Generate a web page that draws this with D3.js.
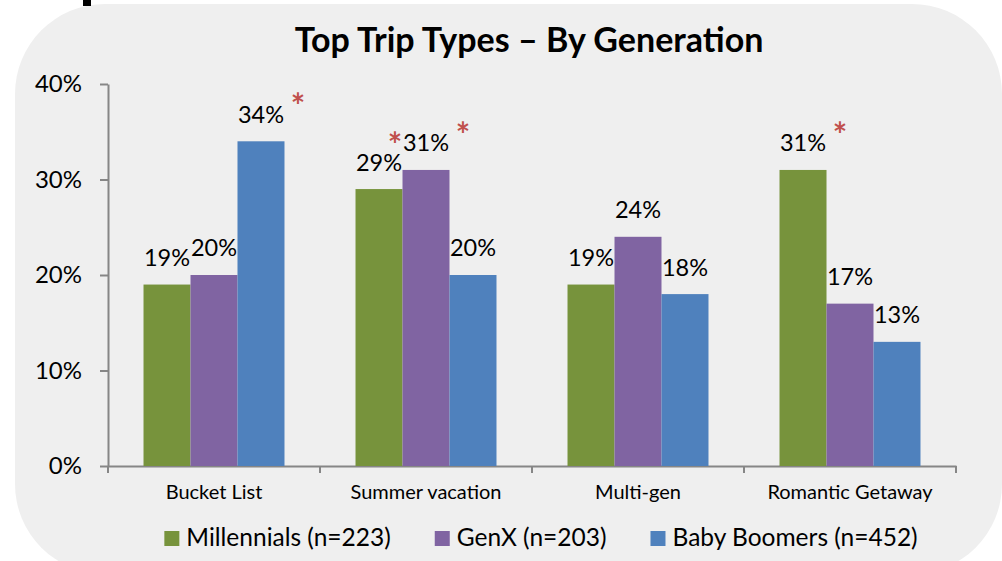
<!DOCTYPE html>
<html>
<head>
<meta charset="utf-8">
<script src="https://cdn.jsdelivr.net/npm/d3@7"></script>
<style>
  html, body { margin: 0; padding: 0; background: #fff; }
  svg { display: block; font-family: Lato, "Open Sans", sans-serif; }
</style>
</head>
<body>
<div id="chart"></div>
<script>
// chart data (percent)
const categories = ["Bucket List", "Summer vacation", "Multi-gen", "Romantic Getaway"];
const seriesNames = ["Millennials (n=223)", "GenX (n=203)", "Baby Boomers (n=452)"];
const millennials = [19, 29, 19, 31];
const genX = [20, 31, 24, 17];
const boomers = [34, 20, 18, 13];
const yTicks = [0, 10, 20, 30, 40];
// [category index, series index] of the values marked as significant
const significant = [[0, 2], [1, 0], [1, 1], [3, 0]];

const colors = ["#77933c", "#8064a2", "#4f81bd"];
const seriesValues = [millennials, genX, boomers];

const width = 1002, height = 561;
const margin = { top: 84, right: 46, bottom: 95, left: 108 };

const svg = d3.select("#chart").append("svg")
  .attr("width", width)
  .attr("height", height);

// rounded panel behind the chart
svg.append("rect")
  .attr("x", 15).attr("y", 4)
  .attr("width", 987).attr("height", 570)
  .attr("rx", 90).attr("ry", 90)
  .attr("fill", "#efefef");

// bit of a cropped heading at the top edge
svg.append("rect")
  .attr("x", 83).attr("y", 0).attr("width", 8).attr("height", 6)
  .attr("fill", "#000");

svg.append("text")
  .attr("x", 529).attr("y", 52)
  .attr("text-anchor", "middle")
  .style("font-size", "34px")
  .style("font-weight", "bold")
  .text("Top Trip Types \u2013 By Generation");

const x0 = d3.scaleBand()
  .domain(d3.range(categories.length))
  .range([margin.left, width - margin.right])
  .paddingInner(0.335)
  .paddingOuter(0.1675);

const x1 = d3.scaleBand()
  .domain(d3.range(seriesNames.length))
  .range([0, x0.bandwidth()]);

const y = d3.scaleLinear()
  .domain([0, 40])
  .range([height - margin.bottom, margin.top]);

const axisColor = "#868686";

// y axis
const yAxis = svg.append("g")
  .attr("transform", `translate(${margin.left},0)`)
  .call(d3.axisLeft(y).tickValues(yTicks).tickSize(8).tickSizeOuter(0).tickPadding(18)
    .tickFormat(d => d + "%"));
yAxis.select(".domain").attr("stroke", axisColor).attr("stroke-width", 2);
yAxis.selectAll(".tick line").attr("stroke", axisColor).attr("stroke-width", 2);
yAxis.selectAll(".tick text")
  .attr("fill", "#000")
  .style("font-size", "24px")
  .style("font-family", "Lato, sans-serif");

// x axis with ticks between the groups
const xAxis = svg.append("g")
  .attr("transform", `translate(0,${y(0)})`)
  .call(d3.axisBottom(x0).tickSize(0).tickSizeOuter(0).tickPadding(19)
    .tickFormat(i => categories[i]));
xAxis.select(".domain").attr("stroke", axisColor).attr("stroke-width", 2);
xAxis.selectAll(".tick text")
  .attr("fill", "#000")
  .style("font-size", "20px")
  .style("font-family", "Lato, sans-serif");

const step = x0.step();
xAxis.selectAll(".sep")
  .data(d3.range(categories.length + 1))
  .join("line")
  .attr("class", "sep")
  .attr("x1", i => margin.left + i * step)
  .attr("x2", i => margin.left + i * step)
  .attr("y1", 0).attr("y2", 7)
  .attr("stroke", axisColor)
  .attr("stroke-width", 2);

// bars
const cells = [];
categories.forEach((c, ci) => {
  seriesValues.forEach((vals, si) => {
    cells.push({ ci, si, value: vals[ci] });
  });
});

const groups = svg.append("g");
groups.selectAll("rect")
  .data(cells)
  .join("rect")
  .attr("x", d => x0(d.ci) + x1(d.si))
  .attr("y", d => y(d.value))
  .attr("width", x1.bandwidth())
  .attr("height", d => y(0) - y(d.value))
  .attr("fill", d => colors[d.si]);

const cx = d => x0(d.ci) + x1(d.si) + x1.bandwidth() / 2;
const labelY = d => y(d.value) - 27;

svg.append("g").selectAll("text")
  .data(cells)
  .join("text")
  .attr("x", cx)
  .attr("y", labelY)
  .attr("dy", "0.36em")
  .attr("text-anchor", "middle")
  .style("font-size", "23.5px")
  .text(d => d.value + "%");

// significance markers; tuck the star in when the next bar's label is higher
const stars = significant.map(([ci, si]) => {
  const d = cells.find(c => c.ci === ci && c.si === si);
  const next = cells.find(c => c.ci === ci && c.si === si + 1);
  const tucked = next && next.value > d.value;
  return { d, dx: tucked ? 16 : 37, dy: tucked ? -26 : -17 };
});

svg.append("g").selectAll("text")
  .data(stars)
  .join("text")
  .attr("x", s => cx(s.d) + s.dx)
  .attr("y", s => labelY(s.d) + s.dy)
  .attr("dy", "0.62em")
  .attr("text-anchor", "middle")
  .attr("fill", "#c0504d")
  .style("font-size", "34px")
  .style("font-weight", "bold")
  .text("*");

// legend
const legend = svg.append("g");
const items = legend.selectAll("g")
  .data(seriesNames)
  .join("g");
items.append("rect")
  .attr("y", 531)
  .attr("width", 15).attr("height", 15)
  .attr("fill", (d, i) => colors[i]);
items.append("text")
  .attr("x", 22)
  .attr("y", 546)
  .style("font-size", "24.5px")
  .text(d => d);

let offset = 0;
const positions = [];
items.each(function () {
  const w = d3.select(this).select("text").node().getComputedTextLength();
  positions.push(offset);
  offset += 22 + w + 44;
});
const total = offset - 44;
const start = 541 - total / 2;
items.attr("transform", (d, i) => `translate(${start + positions[i]},0)`);
</script>
</body>
</html>
